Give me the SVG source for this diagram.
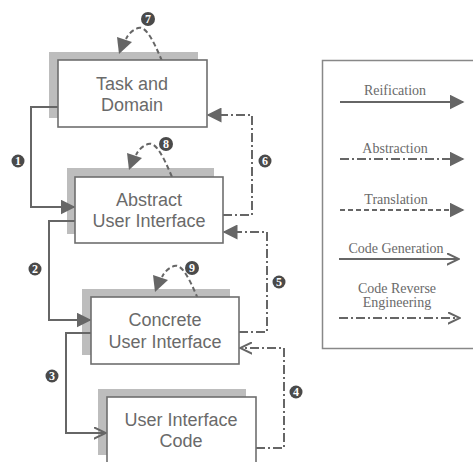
<svg xmlns="http://www.w3.org/2000/svg" width="473" height="462" viewBox="0 0 473 462">
<defs>
<style>
.shadow{fill:#bdbdbd;}
.box{fill:#fff;stroke:#6e6e6e;stroke-width:1.6;}
.lbl{font-family:"Liberation Sans",Arial,sans-serif;font-size:18px;fill:#6a6a6a;text-anchor:middle;}
.leg{font-family:"Liberation Serif","Times New Roman",serif;font-size:14px;fill:#6a6a6a;text-anchor:middle;}
.ln{fill:none;stroke:#666;stroke-width:2;}
.dd{stroke-dasharray:9 3 2 3;}
.dsh{stroke-dasharray:5 3;}
.head{fill:#666;}
.badge{fill:#4a4a4a;}
.num{font-family:"Liberation Serif","Times New Roman",serif;font-size:12px;font-weight:bold;fill:#fff;text-anchor:middle;}
</style>
<marker id="fa" viewBox="0 0 10 10" refX="9" refY="5" markerUnits="userSpaceOnUse" markerWidth="15" markerHeight="15" orient="auto">
<path d="M0,0 L10,5 L0,10 z" fill="#666"/>
</marker>
<marker id="oa" viewBox="0 0 10 10" refX="9.5" refY="5" markerUnits="userSpaceOnUse" markerWidth="13" markerHeight="13" orient="auto">
<path d="M0,0.5 L9.5,5 L0,9.5" fill="none" stroke="#666" stroke-width="1.5"/>
</marker>
</defs>
<rect width="473" height="462" fill="#fff"/>

<!-- shadows -->
<rect class="shadow" x="49" y="52" width="149" height="66"/>
<rect class="shadow" x="67" y="168" width="147" height="66"/>
<rect class="shadow" x="82" y="289" width="148" height="66"/>
<rect class="shadow" x="98" y="389" width="148" height="66"/>

<g id="connectors">
<path class="ln" d="M58,107 H31 V207 H74" marker-end="url(#fa)"/>
<path class="ln" d="M76,221 H49 V320 H90" marker-end="url(#fa)"/>
<path class="ln" d="M92,333 H66 V433 H106" marker-end="url(#oa)"/>
<path class="ln dd" d="M256,448 H284 V348 H240" marker-end="url(#oa)"/>
<path class="ln dd" d="M239,332 H267 V232 H224" marker-end="url(#fa)"/>
<path class="ln dd" d="M223,215 H252 V115 H208" marker-end="url(#fa)"/>
<path class="ln dsh" d="M162,61 C154,42 146,25 138,28 C133,30 129,33 126,39"/>
<polygon class="head" points="117,37 132,42 119,54"/>
<path class="ln dsh" d="M172,177 C164,158 156,141 148,144 C143,146 139,149 136,155"/>
<polygon class="head" points="127,153 142,158 129,170"/>
<path class="ln dsh" d="M198,299 C190,280 182,263 174,266 C169,268 165,271 162,277"/>
<polygon class="head" points="153,275 168,280 155,292"/>
</g>

<g id="n-task">
<rect class="box" x="58" y="60" width="149" height="67"/>
<text class="lbl" x="132" y="90">Task and</text>
<text class="lbl" x="132" y="111">Domain</text>
</g>
<g id="n-aui">
<rect class="box" x="75" y="177" width="148" height="66"/>
<text class="lbl" x="149" y="206">Abstract</text>
<text class="lbl" x="149" y="227">User Interface</text>
</g>
<g id="n-cui">
<rect class="box" x="91" y="297" width="148" height="67"/>
<text class="lbl" x="165" y="326">Concrete</text>
<text class="lbl" x="165" y="348">User Interface</text>
</g>
<g id="n-code">
<rect class="box" x="107" y="397" width="149" height="67"/>
<text class="lbl" x="181" y="426">User Interface</text>
<text class="lbl" x="181" y="447">Code</text>
</g>

<g id="badges">
<circle class="badge" cx="18" cy="161" r="6.5"/><text class="num" x="18" y="165">1</text>
<circle class="badge" cx="35" cy="269" r="6.5"/><text class="num" x="35" y="273">2</text>
<circle class="badge" cx="52" cy="376" r="6.5"/><text class="num" x="52" y="380">3</text>
<circle class="badge" cx="296" cy="392" r="6.5"/><text class="num" x="296" y="396">4</text>
<circle class="badge" cx="279" cy="282" r="6.5"/><text class="num" x="279" y="286">5</text>
<circle class="badge" cx="265" cy="161" r="6.5"/><text class="num" x="265" y="165">6</text>
<circle class="badge" cx="148" cy="19" r="7"/><text class="num" x="148" y="23">7</text>
<circle class="badge" cx="166" cy="144" r="7"/><text class="num" x="166" y="148">8</text>
<circle class="badge" cx="192" cy="268" r="7"/><text class="num" x="192" y="272">9</text>
</g>

<g id="legend">
<rect x="322.5" y="60.5" width="200" height="288" fill="#fff" stroke="#888" stroke-width="1.5"/>
<text class="leg" x="395" y="95">Reification</text>
<path class="ln" d="M340,102 H463" marker-end="url(#fa)"/>
<text class="leg" x="395" y="153">Abstraction</text>
<path class="ln dd" d="M340,159 H463" marker-end="url(#fa)"/>
<text class="leg" x="396" y="204">Translation</text>
<path class="ln dsh" d="M340,210 H463" marker-end="url(#fa)"/>
<text class="leg" x="396" y="253">Code Generation</text>
<path class="ln" d="M339,259 H459" marker-end="url(#oa)"/>
<text class="leg" x="397" y="293">Code Reverse</text>
<text class="leg" x="397" y="307">Engineering</text>
<path class="ln dd" d="M339,318 H460" marker-end="url(#oa)"/>
</g>
</svg>
